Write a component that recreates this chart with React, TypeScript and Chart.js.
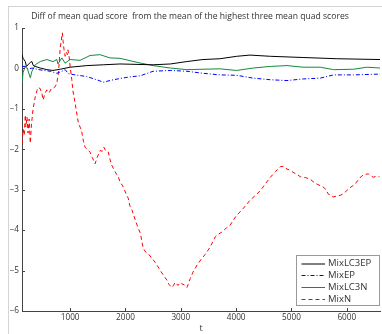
import React, { useEffect, useRef } from "react";
import { Chart, registerables } from "chart.js";

Chart.register(...registerables);

const TITLE = "Diff of mean quad score  from the mean of the highest three mean quad scores";
const X_LABEL = "t";
const X_TICKS = [1000, 2000, 3000, 4000, 5000, 6000];
const X_MIN = 130;
const X_MAX = 6600;
const Y_MIN = -6;
const Y_MAX = 1;

const SERIES_NAMES = ["MixLC3EP", "MixEP", "MixLC3N", "MixN"];

const lc3epT = [130, 150, 190, 210, 240, 280, 310, 330, 370, 460, 580, 690, 820, 1000, 1300, 1600, 1900, 2500, 2810, 3110, 3400, 3710, 4010, 4250, 4620, 5210, 5820, 6600];
const lc3epV = [0.34, 0.25, 0.17, 0.05, 0.09, 0.15, 0.17, 0.08, 0.05, 0.01, -0.03, -0.05, -0.02, 0.03, 0.07, 0.09, 0.11, 0.09, 0.11, 0.17, 0.22, 0.24, 0.30, 0.33, 0.30, 0.27, 0.24, 0.22];

const epT = [130, 190, 250, 310, 400, 520, 640, 760, 850, 910, 970, 1090, 1300, 1480, 1600, 1780, 2030, 2270, 2500, 2810, 3110, 3400, 3710, 4010, 4310, 4620, 4920, 5210, 5520, 5760, 6120, 6600];
const epV = [0.05, 0.05, -0.02, 0.01, -0.02, -0.05, -0.07, -0.12, -0.07, -0.03, -0.13, -0.16, -0.20, -0.28, -0.34, -0.28, -0.22, -0.18, -0.07, -0.05, -0.07, -0.12, -0.16, -0.17, -0.24, -0.28, -0.30, -0.26, -0.24, -0.16, -0.16, -0.14];

const lc3nT = [130, 150, 190, 230, 280, 310, 370, 460, 580, 690, 760, 780, 850, 910, 1000, 1180, 1360, 1540, 1720, 1900, 2210, 2500, 2810, 3110, 3400, 3710, 4010, 4310, 4620, 4920, 5210, 5520, 5760, 6120, 6360, 6600];
const lc3nV = [-0.36, -0.10, 0.05, -0.02, -0.23, -0.07, 0.09, 0.17, 0.22, 0.17, 0.22, 0.11, 0.26, 0.13, 0.22, 0.20, 0.32, 0.34, 0.26, 0.25, 0.15, 0.07, 0.01, -0.03, -0.02, -0.01, -0.05, 0.01, 0.05, 0.07, 0.03, 0.03, -0.03, -0.02, 0.03, 0.01];

const mixnT = [130, 150, 170, 190, 200, 220, 240, 260, 280, 300, 330, 370, 400, 420, 460, 490, 510, 550, 580, 620, 660, 690, 730, 760, 790, 820, 840, 860, 870, 890, 910, 930, 950, 960, 980, 1000, 1030, 1050, 1090, 1150, 1180, 1210, 1240, 1270, 1310, 1360, 1400, 1450, 1490, 1540, 1580, 1610, 1650, 1690, 1720, 1750, 1810, 1870, 1900, 1960, 2010, 2050, 2080, 2120, 2180, 2230, 2270, 2320, 2370, 2410, 2480, 2540, 2630, 2680, 2750, 2790, 2840, 2860, 2900, 2950, 2990, 3020, 3060, 3110, 3130, 3170, 3220, 3300, 3380, 3440, 3530, 3620, 3680, 3740, 3820, 3890, 3950, 4010, 4070, 4130, 4180, 4250, 4340, 4440, 4530, 4620, 4710, 4800, 4850, 4920, 4980, 5030, 5100, 5160, 5250, 5340, 5390, 5460, 5520, 5570, 5630, 5660, 5720, 5750, 5810, 5880, 5940, 6000, 6060, 6150, 6210, 6270, 6330, 6390, 6420, 6480, 6530, 6590];
const mixnV = [-1.85, -1.5, -1.65, -1.15, -1.45, -1.2, -1.6, -1.25, -1.85, -1.4, -1.0, -0.7, -0.55, -0.47, -0.5, -0.62, -0.78, -0.6, -0.53, -0.6, -0.5, -0.49, -0.45, -0.36, -0.1, 0.5, 0.7, 0.88, 0.7, 0.46, 0.3, 0.4, 0.34, 0.46, 0.3, 0.05, -0.28, -0.55, -0.86, -1.36, -1.45, -1.57, -1.8, -1.95, -2.0, -2.07, -2.2, -2.36, -2.2, -2.03, -2.05, -1.95, -2.05, -2.07, -2.25, -2.39, -2.55, -2.68, -2.8, -2.93, -3.1, -3.21, -3.4, -3.51, -3.76, -3.95, -4.08, -4.45, -4.55, -4.58, -4.7, -4.8, -5.0, -5.1, -5.24, -5.35, -5.42, -5.38, -5.29, -5.37, -5.3, -5.33, -5.35, -5.42, -5.35, -5.2, -5.04, -4.85, -4.7, -4.6, -4.42, -4.17, -4.1, -4.05, -3.95, -3.88, -3.75, -3.63, -3.55, -3.46, -3.38, -3.26, -3.15, -3.02, -2.85, -2.69, -2.55, -2.43, -2.42, -2.49, -2.52, -2.57, -2.62, -2.68, -2.7, -2.74, -2.8, -2.86, -2.9, -2.93, -3.0, -3.1, -3.15, -3.18, -3.16, -3.14, -3.1, -3.02, -2.95, -2.86, -2.75, -2.66, -2.62, -2.61, -2.65, -2.69, -2.67, -2.68];

const FONT = "'Open Sans', sans-serif";
const TEXT_COLOR = "#333";
const AXIS_COLOR = "#444";

const STYLES = [
  { color: "#000000", dash: [] as number[] },
  { color: "#0000ff", dash: [4, 2, 1, 2] },
  { color: "#138a3e", dash: [] as number[] },
  { color: "#ff0000", dash: [4, 3] },
];

function pts(t: number[], v: number[]) {
  return t.map((x, i) => ({ x, y: v[i] }));
}

const decorPlugin = {
  id: "decor",
  beforeDraw(chart: any) {
    const ctx = chart.ctx;
    ctx.save();
    ctx.fillStyle = "#fff";
    ctx.fillRect(0, 0, chart.width, chart.height);
    ctx.strokeStyle = "#d4d4d4";
    ctx.lineWidth = 1;
    ctx.strokeRect(8.5, 6.5, 500, 500);
    ctx.restore();
  },
  afterDraw(chart: any) {
    const ctx = chart.ctx;
    const a = chart.chartArea;
    const xs = chart.scales.x;
    const ys = chart.scales.y;
    ctx.save();
    // inward tick marks
    ctx.strokeStyle = AXIS_COLOR;
    ctx.lineWidth = 1;
    ctx.beginPath();
    xs.ticks.forEach((t: any) => {
      const px = Math.round(xs.getPixelForValue(t.value)) + 0.5;
      ctx.moveTo(px, a.bottom);
      ctx.lineTo(px, a.bottom - 3);
    });
    ys.ticks.forEach((t: any) => {
      const py = Math.round(ys.getPixelForValue(t.value)) + 0.5;
      ctx.moveTo(a.left, py);
      ctx.lineTo(a.left + 3, py);
    });
    ctx.stroke();
    // title
    ctx.fillStyle = TEXT_COLOR;
    ctx.font = `8.6px ${FONT}`;
    ctx.textAlign = "center";
    ctx.textBaseline = "middle";
    ctx.fillText(TITLE, 190, 17);
    ctx.font = `9px ${FONT}`;
    ctx.fillText(X_LABEL, 201, 328);
    // legend
    const bx = 296.5, by = 255.5, bw = 83, bh = 50;
    ctx.fillStyle = "#fff";
    ctx.fillRect(bx, by, bw, bh);
    ctx.strokeStyle = "#999";
    ctx.strokeRect(bx, by, bw, bh);
    const rows = [263.5, 275, 287, 299];
    ctx.font = `9.5px ${FONT}`;
    SERIES_NAMES.forEach((name, i) => {
      ctx.strokeStyle = STYLES[i].color;
      ctx.setLineDash(STYLES[i].dash);
      ctx.beginPath();
      ctx.moveTo(301.5, rows[i] + 0.5);
      ctx.lineTo(325, rows[i] + 0.5);
      ctx.stroke();
      ctx.setLineDash([]);
      ctx.fillStyle = TEXT_COLOR;
      ctx.textAlign = "left";
      ctx.fillText(name, 328, rows[i]);
    });
    ctx.restore();
  },
};

export default function App() {
  const ref = useRef<HTMLCanvasElement>(null);
  useEffect(() => {
    document.body.style.margin = "0";
    const data = [pts(lc3epT, lc3epV), pts(epT, epV), pts(lc3nT, lc3nV), pts(mixnT, mixnV)];
    const chart = new Chart(ref.current as HTMLCanvasElement, {
      type: "line",
      data: {
        datasets: SERIES_NAMES.map((name, i) => ({
          label: name,
          data: data[i],
          borderColor: STYLES[i].color,
          borderDash: STYLES[i].dash,
          borderWidth: 1,
          pointRadius: 0,
          tension: 0,
          fill: false,
        })),
      },
      options: {
        animation: false,
        responsive: false,
        events: [],
        layout: { padding: { top: 28, right: 2, left: 0, bottom: 0 } },
        plugins: { legend: { display: false }, title: { display: false }, tooltip: { enabled: false } },
        scales: {
          x: {
            type: "linear",
            min: X_MIN,
            max: X_MAX,
            afterBuildTicks: (s: any) => {
              s.ticks = X_TICKS.map((v) => ({ value: v }));
            },
            afterFit: (s: any) => {
              s.height = 23;
            },
            grid: { display: true, drawOnChartArea: false, drawTicks: false },
            border: { display: true, color: AXIS_COLOR },
            ticks: {
              color: TEXT_COLOR,
              font: { family: FONT, size: 8.2 },
              padding: 2,
              maxRotation: 0,
              autoSkip: false,
              callback: (v: any) => String(v),
            },
          },
          y: {
            type: "linear",
            min: Y_MIN,
            max: Y_MAX,
            afterFit: (s: any) => {
              s.width = 22;
            },
            grid: { display: true, drawOnChartArea: false, drawTicks: false },
            border: { display: true, color: AXIS_COLOR },
            ticks: {
              stepSize: 1,
              color: TEXT_COLOR,
              font: { family: FONT, size: 8.2 },
              padding: 3,
              callback: (v: any) => String(v).replace("-", "\u2212"),
            },
          },
        },
      },
      plugins: [decorPlugin],
    });
    return () => chart.destroy();
  }, []);
  return (
    <div style={{ position: "absolute", left: 0, top: 0, width: 382, height: 334 }}>
      <canvas ref={ref} width={382} height={334} style={{ display: "block" }} />
    </div>
  );
}
